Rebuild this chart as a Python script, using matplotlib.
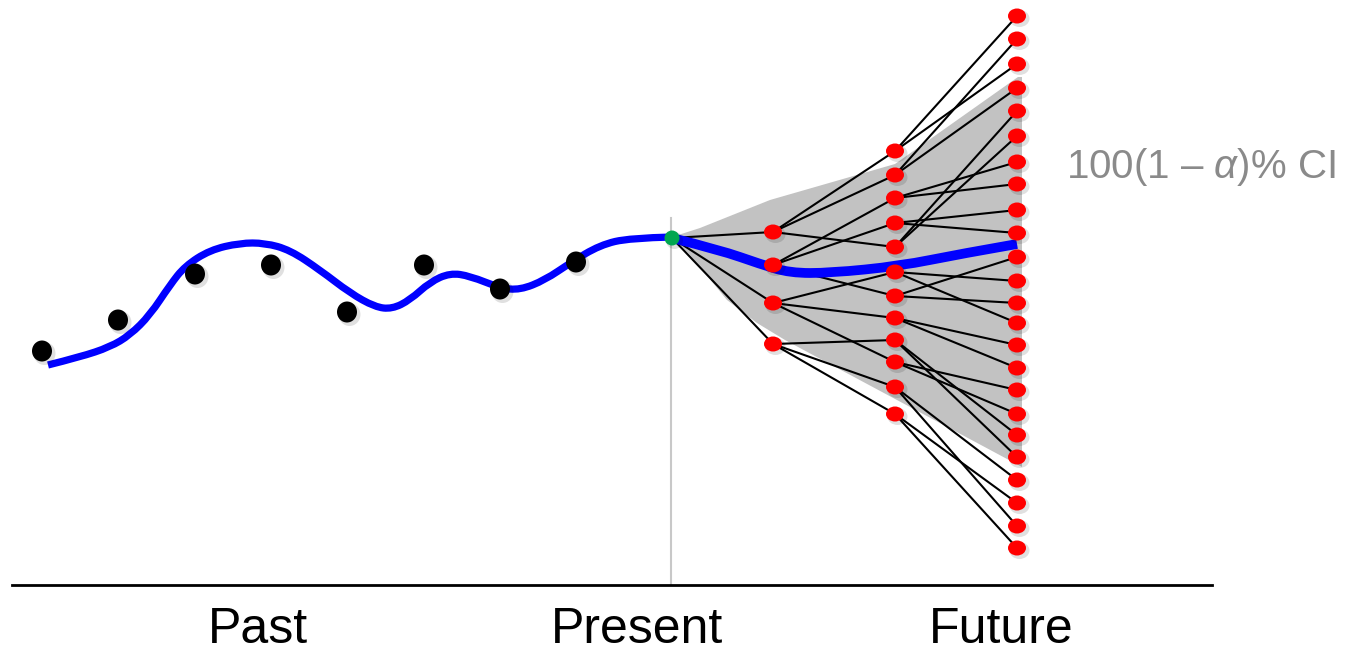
import numpy as np
import matplotlib
matplotlib.use("Agg")
import matplotlib.pyplot as plt
from matplotlib.path import Path
from matplotlib.patches import PathPatch, Ellipse, Polygon

plt.rcParams['font.family'] = ['Liberation Sans', 'DejaVu Sans']
plt.rcParams['mathtext.fontset'] = 'custom'
plt.rcParams['mathtext.it'] = 'Liberation Sans:italic'
plt.rcParams['mathtext.rm'] = 'Liberation Sans'

# past observations (black dots), pixel-style coordinates
obs_x = [42, 118, 195, 271, 347, 424, 500, 576]
obs_y = [351, 320, 274, 265, 312, 265, 289, 262]

# fitted curve through the past
past_x = [48, 80, 110, 130, 150, 170, 185, 210, 240, 265, 290, 320, 350, 375,
          392, 410, 430, 450, 470, 500, 520, 545, 570, 600, 630, 672]
past_y = [365, 357, 347, 335, 315, 285, 266, 250, 243, 243, 250, 270, 293, 307,
          309, 300, 282, 273, 276, 288, 290, 280, 263, 245, 238, 237]

# central forecast
fut_x = [672, 720, 760, 790, 830, 900, 960, 1017]
fut_y = [238, 250, 264, 273, 273, 266, 254, 244]

# present point and tree levels
root = (672, 238)
lvl1_x, lvl1_y = 773, [232, 265, 303, 344]
lvl2_x, lvl2_y = 895, [151, 175, 198, 223, 247, 272, 296, 318, 340, 362, 387, 414]
lvl3_x, lvl3_y = 1017, [16, 39, 64, 88, 111, 136, 162, 184, 210, 233, 257, 281,
                        303, 323, 345, 368, 390, 414, 435, 457, 480, 503, 526, 548]

# which level-1 node each level-2 node hangs from
lvl2_parent = [0, 0, 1, 1, 0, 2, 1, 2, 3, 2, 3, 3]
# which level-2 node each level-3 node hangs from
lvl3_parent = [0, 1, 0, 1, 4, 4, 2, 2, 3, 3, 6, 5,
               6, 5, 7, 7, 9, 9, 8, 8, 10, 11, 10, 11]

# confidence band outline
ci_x = [672, 700, 770, 895, 1018, 1022, 1022, 785, 757, 727, 690]
ci_y = [237, 228, 200, 164, 77, 77, 467, 340, 323, 300, 255]

labels = ["Past", "Present", "Future"]
label_x = [258, 637, 1001]
ci_label = r"100(1 – $\it{\alpha}$)% CI"


def smooth_path(xs, ys):
    pts = np.column_stack([xs, ys]).astype(float)
    verts = [pts[0]]
    codes = [Path.MOVETO]
    for i in range(1, len(pts) - 1):
        end = (pts[i] + pts[i + 1]) / 2 if i < len(pts) - 2 else pts[i + 1]
        verts += [pts[i], end]
        codes += [Path.CURVE3, Path.CURVE3]
    return Path(verts, codes)


fig = plt.figure(figsize=(13.59, 6.54), dpi=100)
ax = fig.add_axes([0, 0, 1, 1])
ax.set_xlim(0, 1359)
ax.set_ylim(654, 0)
ax.axis('off')

# band
ax.add_patch(Polygon(np.column_stack([ci_x, ci_y]), closed=True,
                     facecolor='#c2c2c2', edgecolor='none', zorder=1))

# present line and time axis
ax.plot([671, 671], [218, 585], color='#c8c8c8', lw=1.5, zorder=0.5)
ax.plot([12, 1212], [585, 585], color='black', lw=2.0, zorder=2)

# tree edges
edge_kw = dict(color='black', lw=1.5, zorder=3, solid_capstyle='round')
for y in lvl1_y:
    ax.plot([root[0], lvl1_x], [root[1], y], **edge_kw)
for y, p in zip(lvl2_y, lvl2_parent):
    ax.plot([lvl1_x, lvl2_x], [lvl1_y[p], y], **edge_kw)
for y, p in zip(lvl3_y, lvl3_parent):
    ax.plot([lvl2_x, lvl3_x], [lvl2_y[p], y], **edge_kw)

# blue curves
ax.add_patch(PathPatch(smooth_path(past_x, past_y), fill=False, edgecolor='#0000ff',
                       lw=5.2, capstyle='butt', joinstyle='round', zorder=4))
ax.add_patch(PathPatch(smooth_path(fut_x, fut_y), fill=False, edgecolor='#0000ff',
                       lw=7.0, capstyle='butt', joinstyle='round', zorder=4))


def node(x, y, w, h, color, z=5):
    ax.add_patch(Ellipse((x + 2.5, y + 2.5), w + 2, h + 2, facecolor='#000000',
                         alpha=0.12, edgecolor='none', zorder=z - 0.1))
    ax.add_patch(Ellipse((x, y), w, h, facecolor=color, edgecolor='none', zorder=z))


for x, y in zip(obs_x, obs_y):
    node(x, y, 20, 21, 'black')
for y in lvl1_y:
    node(lvl1_x, y, 18, 15, '#ff0000')
for y in lvl2_y:
    node(lvl2_x, y, 18, 15, '#ff0000')
for y in lvl3_y:
    node(lvl3_x, y, 18, 15, '#ff0000')
node(root[0], root[1], 15, 15, '#00a650', z=6)

for lab, x in zip(labels, label_x):
    ax.text(x, 653, lab, fontsize=36, ha='center', va='bottom', color='black')
ax.text(1066, 178, ci_label, fontsize=29, ha='left', va='baseline', color='#8a8a8a')

fig.savefig('out.png', dpi=100)
